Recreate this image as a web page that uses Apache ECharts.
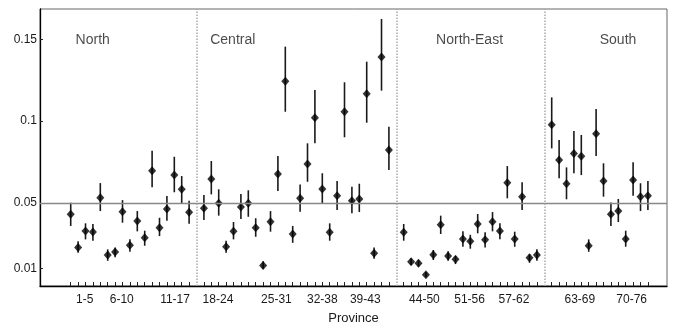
<!DOCTYPE html>
<html>
<head>
<meta charset="utf-8">
<script src="https://cdn.jsdelivr.net/npm/echarts@6/dist/echarts.min.js"></script>
<style>
  html, body { margin: 0; padding: 0; background: #fff; }
  #chart { width: 675px; height: 324px; }
</style>
</head>
<body>
<div id="chart"></div>
<script>
// region names and the last province number of each region
const regions = ['North', 'Central', 'North-East', 'South'];
const regionEnds = [17, 43, 62, 76];

// estimates per province (1..76)
const estimate = [
  0.0430, 0.0228, 0.0328, 0.0322, 0.0532, 0.0181, 0.0200, 0.0446, 0.0241, 0.0389, 0.0287, 0.0697, 0.0348, 0.0462, 0.0670, 0.0583, 0.0442,
  0.0467, 0.0646, 0.0497, 0.0232, 0.0326, 0.0475, 0.0497, 0.0348, 0.0118, 0.0385, 0.0676, 0.1243, 0.0310, 0.0528, 0.0738, 0.1021, 0.0585, 0.0320, 0.0544, 0.1057, 0.0513, 0.0524, 0.1167, 0.0192, 0.1392, 0.0823,
  0.0320, 0.0140, 0.0131, 0.0061, 0.0183, 0.0367, 0.0175, 0.0155, 0.0279, 0.0265, 0.0371, 0.0275, 0.0385, 0.0328, 0.0623, 0.0279, 0.0538, 0.0165, 0.0181,
  0.0978, 0.0762, 0.0617, 0.0802, 0.0785, 0.0238, 0.0923, 0.0634, 0.0430, 0.0450, 0.0279, 0.0640, 0.0538, 0.0544
];
const lower = [
  0.0359, 0.0195, 0.0277, 0.0269, 0.0450, 0.0146, 0.0167, 0.0379, 0.0201, 0.0326, 0.0238, 0.0595, 0.0297, 0.0391, 0.0565, 0.0497, 0.0373,
  0.0395, 0.0552, 0.0422, 0.0195, 0.0277, 0.0401, 0.0415, 0.0293, 0.0098, 0.0324, 0.0572, 0.1057, 0.0256, 0.0446, 0.0629, 0.0864, 0.0493, 0.0269, 0.0456, 0.0901, 0.0436, 0.0444, 0.0990, 0.0159, 0.1186, 0.0701,
  0.0269, 0.0120, 0.0110, 0.0045, 0.0151, 0.0310, 0.0146, 0.0126, 0.0232, 0.0220, 0.0314, 0.0228, 0.0326, 0.0277, 0.0528, 0.0232, 0.0456, 0.0134, 0.0146,
  0.0833, 0.0650, 0.0522, 0.0681, 0.0670, 0.0201, 0.0786, 0.0538, 0.0359, 0.0383, 0.0232, 0.0544, 0.0450, 0.0456
];
const upper = [
  0.0501, 0.0265, 0.0375, 0.0371, 0.0621, 0.0216, 0.0228, 0.0517, 0.0277, 0.0450, 0.0330, 0.0819, 0.0409, 0.0542, 0.0782, 0.0664, 0.0513,
  0.0548, 0.0756, 0.0583, 0.0269, 0.0383, 0.0554, 0.0577, 0.0406, 0.0143, 0.0450, 0.0786, 0.1455, 0.0359, 0.0613, 0.0864, 0.1190, 0.0681, 0.0375, 0.0634, 0.1237, 0.0599, 0.0617, 0.1363, 0.0228, 0.1624, 0.0966,
  0.0371, 0.0161, 0.0151, 0.0077, 0.0212, 0.0422, 0.0204, 0.0175, 0.0326, 0.0305, 0.0432, 0.0320, 0.0444, 0.0375, 0.0725, 0.0324, 0.0626, 0.0187, 0.0216,
  0.1145, 0.0884, 0.0717, 0.0939, 0.0915, 0.0277, 0.1074, 0.0742, 0.0503, 0.0524, 0.0330, 0.0748, 0.0620, 0.0634
];
const overallMean = 0.0473;

// x tick labels and where they sit (in slot units)
const xLabels = ['1-5', '6-10', '11-17', '18-24', '25-31', '32-38', '39-43', '44-50', '51-56', '57-62', '63-69', '70-76'];
const xLabelAt = [2.9, 7.9, 15.1, 20.9, 28.8, 35.0, 40.8, 48.8, 54.9, 60.9, 69.8, 76.8];
const yTicks = [0.01, 0.05, 0.1, 0.15];

// one empty slot between regions
const slotOf = (p) => {
  const r = regionEnds.findIndex((e) => p <= e);
  return p + r;
};
const dividers = regionEnds.slice(0, -1).map((e, i) => e + i + 1);
const regionLabelX = [3.97, 22.9, 54.9, 74.96];

const slots = estimate.map((v, i) => slotOf(i + 1));
const pointData = estimate.map((v, i) => [slots[i], v]);
const barData = estimate.map((v, i) => [slots[i], lower[i], upper[i]]);

const font = 'Liberation Sans, Arial, sans-serif';
const chart = echarts.init(document.getElementById('chart'));

const option = {
  animation: false,
  grid: {
    left: 40, right: 8, top: 9, bottom: 38,
    outerBoundsMode: 'none',
    show: true, borderColor: '#666', borderWidth: 1
  },
  xAxis: {
    type: 'value',
    min: -3.15,
    max: 81.58,
    name: 'Province',
    nameLocation: 'middle',
    nameGap: 26,
    nameTextStyle: { fontFamily: font, fontSize: 13, color: '#1a1a1a' },
    splitLine: { show: false },
    axisLine: { onZero: false, lineStyle: { color: '#000', width: 1.3 } },
    axisTick: { inside: true, length: 4, customValues: slots, lineStyle: { color: '#222' } },
    axisLabel: {
      customValues: xLabelAt,
      margin: 8,
      fontFamily: font, fontSize: 12, color: '#1a1a1a',
      formatter: (val) => {
        let k = 0;
        xLabelAt.forEach((x, i) => { if (Math.abs(x - val) < Math.abs(xLabelAt[k] - val)) k = i; });
        return xLabels[k];
      }
    }
  },
  yAxis: {
    type: 'value',
    min: -0.0008,
    max: 0.1685,
    splitLine: { show: false },
    axisLine: { show: true, onZero: false, lineStyle: { color: '#000', width: 1.3 } },
    axisTick: { show: true, inside: true, length: 3, customValues: yTicks, lineStyle: { color: '#222' } },
    axisLabel: {
      customValues: yTicks,
      margin: 3,
      fontFamily: font, fontSize: 12, color: '#1a1a1a',
      formatter: (v) => String(+v.toFixed(3))
    }
  },
  series: [
    {
      type: 'custom',
      data: barData,
      z: 3,
      renderItem: (params, api) => {
        const a = api.coord([api.value(0), api.value(1)]);
        const b = api.coord([api.value(0), api.value(2)]);
        return {
          type: 'line',
          shape: { x1: a[0], y1: a[1], x2: b[0], y2: b[1] },
          style: { stroke: '#1a1a1a', lineWidth: 1.6 }
        };
      }
    },
    {
      type: 'scatter',
      data: pointData,
      symbol: 'diamond',
      symbolSize: [8, 9],
      z: 4,
      itemStyle: { color: '#000' },
      markLine: {
        silent: true,
        symbol: 'none',
        label: { show: false },
        data: [
          { yAxis: overallMean, lineStyle: { color: '#888', width: 1.3, type: 'solid' } }
        ].concat(dividers.map((d) => ({ xAxis: d, lineStyle: { color: '#aaa', width: 1.5, type: 'dotted' } })))
      }
    },
    {
      type: 'scatter',
      symbolSize: 1,
      itemStyle: { color: 'rgba(0,0,0,0)' },
      data: regions.map((r, i) => ({ name: r, value: [regionLabelX[i], 0.1496] })),
      label: {
        show: true,
        position: 'inside',
        formatter: '{b}',
        fontFamily: font,
        fontSize: 14,
        color: '#1a1a1a'
      }
    }
  ]
};
chart.setOption(option);
</script>
</body>
</html>
